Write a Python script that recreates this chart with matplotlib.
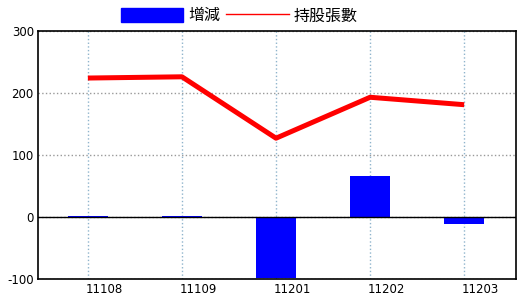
import numpy as np
import matplotlib
matplotlib.use("Agg")
import matplotlib.pyplot as plt
import matplotlib.transforms as mtransforms
from matplotlib.patches import Patch
from matplotlib.lines import Line2D

# data
months = ['11108', '11109', '11201', '11202', '11203']
change = [2, 2, -99, 66, -12]            # 增減
holdings = [224, 226, 127, 193, 181]     # 持股張數
yticks = [-100, 0, 100, 200, 300]

plt.rcParams['font.family'] = ['Noto Sans CJK TC', 'DejaVu Sans']
plt.rcParams['axes.unicode_minus'] = False

fig = plt.figure(figsize=(5.2, 3.0), dpi=100)
ax = fig.add_axes([0.0731, 0.07, 0.919, 0.827])

x = np.arange(len(months))
ax.bar(x, change, width=0.425, color='#0000ff', zorder=3)
ax.plot(x, holdings, color='#ff0000', lw=3.6, solid_capstyle='butt', zorder=4)
ax.axhline(0, color='black', lw=1.0, zorder=5)

ax.set_xlim(-0.53, 4.55)
ax.set_ylim(-100, 300)
ax.set_yticks(yticks)
ax.set_xticks(x)
ax.set_xticklabels(months)

# dotted grid: light blue verticals, grey horizontals
ax.xaxis.grid(True, linestyle=':', color='#8fb4cc', lw=1.0, zorder=1)
ax.yaxis.grid(True, linestyle=':', color='#999999', lw=1.0, zorder=1)
ax.set_axisbelow(True)

ax.tick_params(length=0, labelsize=8.5, pad=3)
for lab in ax.get_xticklabels():
    lab.set_family('DejaVu Sans')
    lab.set_transform(lab.get_transform() +
                      mtransforms.ScaledTranslation(0.16, 0, fig.dpi_scale_trans))
for lab in ax.get_yticklabels():
    lab.set_family('DejaVu Sans')

for s in ax.spines.values():
    s.set_color('black')
    s.set_linewidth(1.2)

handles = [Patch(color='#0000ff', label='增減'),
           Line2D([], [], color='#ff0000', lw=1.0, label='持股張數')]
fig.legend(handles=handles, loc='center', bbox_to_anchor=(0.46, 0.947), ncol=2,
           frameon=False, fontsize=11.5, handlelength=3.9, handleheight=1.0,
           handletextpad=0.3, columnspacing=0.4, borderpad=0)

fig.savefig('out.png', dpi=100)
